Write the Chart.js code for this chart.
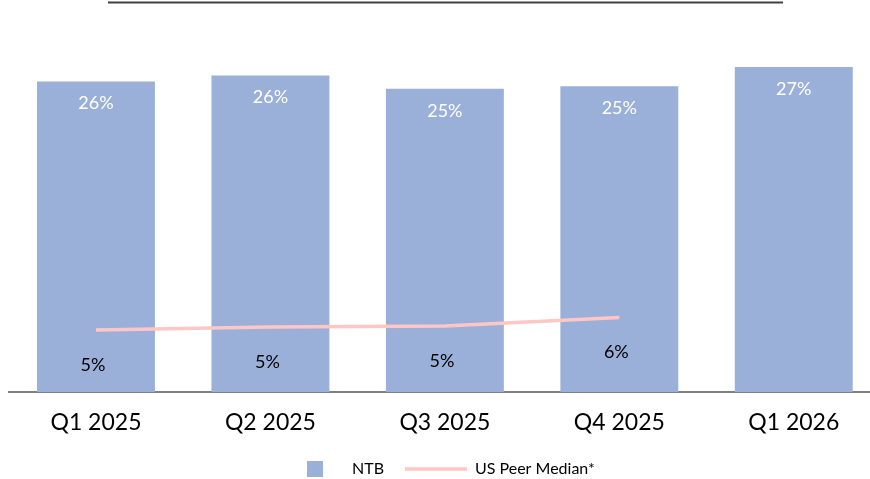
<!DOCTYPE html>
<html><head><meta charset="utf-8">
<script src="https://cdn.jsdelivr.net/npm/chart.js@4/dist/chart.umd.min.js"></script>
<style>
html,body{margin:0;padding:0;overflow:hidden;background:#fff;}
#wrap{position:relative;width:885px;height:479px;}
</style></head>
<body><div id="wrap"><canvas id="c" width="885" height="479"></canvas></div>
<script>
const categories = ["Q1 2025","Q2 2025","Q3 2025","Q4 2025","Q1 2026"];
const ntbValues = [25.8, 26.3, 25.2, 25.4, 27.0];
const peerValues = [5.15, 5.4, 5.48, 6.2, null];
const seriesNames = ["NTB","US Peer Median*"];

const FONT = "Lato, 'Open Sans', sans-serif";
const barColor = "#9BB0D9";
const lineColor = "#FFC6C6";

const labelPlugin = {
  id: "labels",
  afterDatasetsDraw(chart){
    const ctx = chart.ctx;
    ctx.save();
    ctx.textAlign = "center";
    ctx.textBaseline = "middle";
    const barMeta = chart.getDatasetMeta(0);
    ctx.font = "18px " + FONT;
    ctx.fillStyle = "#ffffff";
    barMeta.data.forEach((el,i)=>{
      ctx.fillText(Math.round(ntbValues[i]) + "%", el.x, el.y + 22);
    });
    const lineMeta = chart.getDatasetMeta(1);
    ctx.fillStyle = "#000000";
    lineMeta.data.forEach((el,i)=>{
      if (peerValues[i] == null) return;
      ctx.fillText(Math.round(peerValues[i]) + "%", el.x - 3, el.y + 35);
    });
    ctx.restore();
  },
  afterDraw(chart){
    const ctx = chart.ctx;
    ctx.save();
    // top rule
    ctx.strokeStyle = "#404040";
    ctx.lineWidth = 2;
    ctx.beginPath(); ctx.moveTo(108, 2.5); ctx.lineTo(783, 2.5); ctx.stroke();
    // legend
    const y = 469;
    ctx.fillStyle = barColor;
    ctx.fillRect(307, y - 8, 16, 16);
    ctx.font = "16px " + FONT;
    ctx.fillStyle = "#000";
    ctx.textBaseline = "middle";
    ctx.textAlign = "left";
    ctx.fillText(seriesNames[0], 352, y);
    ctx.strokeStyle = lineColor;
    ctx.lineWidth = 3.5;
    ctx.beginPath(); ctx.moveTo(405, y); ctx.lineTo(467, y); ctx.stroke();
    ctx.fillText(seriesNames[1], 475, y);
    ctx.restore();
  }
};

new Chart(document.getElementById("c"), {
  data: {
    labels: categories,
    datasets: [
      { type: "bar", label: seriesNames[0], data: ntbValues, backgroundColor: barColor,
        barPercentage: 0.676, categoryPercentage: 1.0, order: 2 },
      { type: "line", label: seriesNames[1], data: peerValues, borderColor: lineColor,
        borderWidth: 3.5, pointRadius: 0, tension: 0, spanGaps: false, order: 1 }
    ]
  },
  options: {
    responsive: false,
    animation: false,
    layout: { padding: { left: 8.75, right: 4, top: 31, bottom: 27 } },
    plugins: { legend: { display: false }, tooltip: { enabled: false } },
    scales: {
      x: {
        grid: { display: false, drawTicks: false },
        border: { display: true, color: "#7F7F7F", width: 2 },
        ticks: { color: "#000", font: { family: FONT, size: 23 }, padding: 17 },
        afterFit: (s) => { s.height = 60; }
      },
      y: { display: false, min: 0, max: 30 }
    }
  },
  plugins: [labelPlugin]
});
</script></body></html>
